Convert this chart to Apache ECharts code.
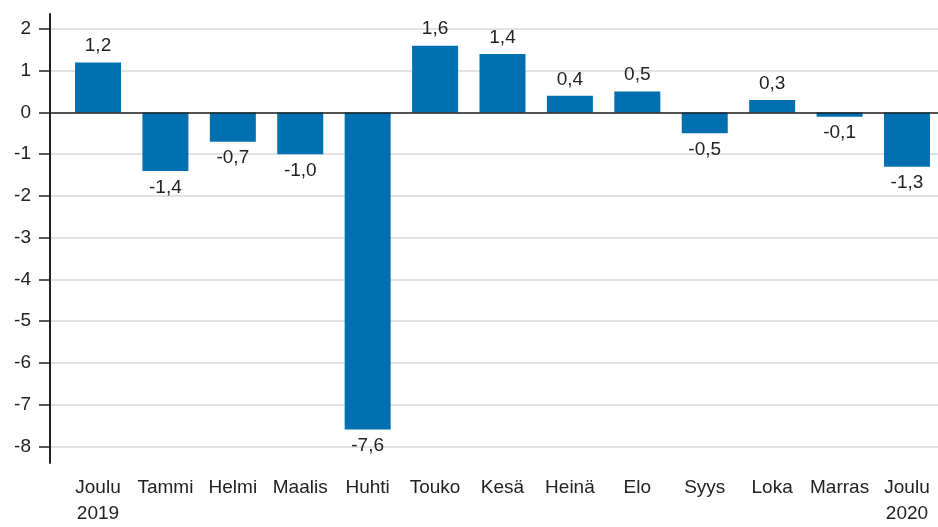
<!DOCTYPE html>
<html>
<head>
<meta charset="utf-8">
<script src="https://cdn.jsdelivr.net/npm/echarts@6/dist/echarts.min.js"></script>
<style>
html,body{margin:0;padding:0;background:#fff;}
#chart{width:938px;height:527px;}
</style>
</head>
<body>
<div id="chart"></div>
<script>
var categories = ["Joulu\n2019", "Tammi", "Helmi", "Maalis", "Huhti", "Touko", "Kesä", "Heinä", "Elo", "Syys", "Loka", "Marras", "Joulu\n2020"];
var values = [1.2, -1.4, -0.7, -1.0, -7.6, 1.6, 1.4, 0.4, 0.5, -0.5, 0.3, -0.1, -1.3];
var yTicks = [-8, -7, -6, -5, -4, -3, -2, -1, 0, 1, 2];

var positions = categories.map(function (c, i) { return i; });
var barData = values.map(function (v, i) {
  return {
    value: [i, v],
    label: { position: v >= 0 ? 'top' : 'bottom' }
  };
});

var chart = echarts.init(document.getElementById('chart'), null, { renderer: 'canvas' });
var font = 'Liberation Sans, Arial, sans-serif';
chart.setOption({
  animation: false,
  textStyle: { fontFamily: font },
  grid: { left: 50, right: 0, top: 14, bottom: 59, containLabel: false },
  xAxis: {
    type: 'value',
    min: -0.712,
    max: 12.46,
    axisLine: { show: false, onZero: false },
    axisTick: { show: false },
    splitLine: { show: false },
    axisLabel: {
      customValues: positions,
      formatter: function (v) { return categories[Math.round(v)]; },
      color: '#222',
      fontSize: 19,
      fontFamily: font,
      lineHeight: 26,
      margin: 12,
      align: 'center'
    }
  },
  yAxis: {
    type: 'value',
    min: -8.4,
    max: 2.36,
    axisLine: { show: true, onZero: false, lineStyle: { color: '#222', width: 2 } },
    axisTick: { show: true, customValues: yTicks, length: 11, lineStyle: { color: '#222', width: 1.5 } },
    axisLabel: {
      customValues: yTicks,
      color: '#222',
      fontSize: 19,
      fontFamily: font,
      margin: 19
    },
    splitLine: { show: true, lineStyle: { color: '#e2e2e2', width: 2 } }
  },
  series: [{
    type: 'bar',
    data: barData,
    barWidth: 46,
    itemStyle: { color: '#0070b0' },
    label: {
      show: true,
      color: '#222',
      fontSize: 19,
      fontFamily: font,
      distance: 7,
      formatter: function (p) { return p.value[1].toFixed(1).replace('.', ','); }
    },
    markLine: {
      silent: true,
      symbol: 'none',
      label: { show: false },
      lineStyle: { color: '#222', width: 1.5, type: 'solid' },
      data: [{ yAxis: 0 }],
      animation: false
    }
  }]
});
</script>
</body>
</html>
